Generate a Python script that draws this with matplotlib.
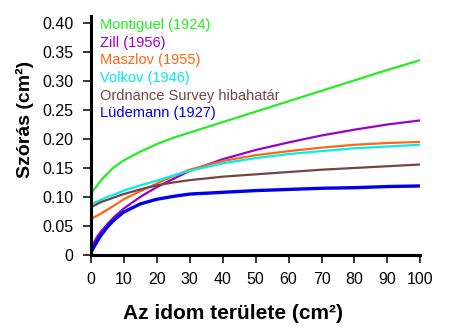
import matplotlib
matplotlib.use('Agg')
import matplotlib.pyplot as plt

plt.rcParams['font.family'] = ['Liberation Sans', 'DejaVu Sans']

area = [0, 1, 2, 3, 5, 7, 10, 15, 20, 25, 30, 40, 50, 60, 70, 80, 90, 100]

montiguel = [0.106, 0.113, 0.120, 0.128, 0.140, 0.151, 0.163, 0.178, 0.191, 0.202,
             0.211, 0.229, 0.247, 0.265, 0.283, 0.301, 0.319, 0.336]
zill = [0.015, 0.022, 0.032, 0.040, 0.053, 0.065, 0.080, 0.100, 0.117, 0.131,
        0.145, 0.165, 0.181, 0.194, 0.206, 0.216, 0.225, 0.232]
maszlov = [0.062, 0.065, 0.068, 0.071, 0.078, 0.085, 0.096, 0.110, 0.123, 0.136,
           0.147, 0.162, 0.172, 0.179, 0.185, 0.190, 0.193, 0.195]
volkov = [0.087, 0.090, 0.092, 0.095, 0.100, 0.104, 0.111, 0.120, 0.128, 0.137,
          0.145, 0.158, 0.167, 0.174, 0.179, 0.184, 0.187, 0.190]
ordnance = [0.082, 0.085, 0.088, 0.091, 0.095, 0.099, 0.105, 0.113, 0.120, 0.125,
            0.129, 0.135, 0.139, 0.143, 0.147, 0.150, 0.153, 0.156]
ludemann = [0.004, 0.014, 0.024, 0.033, 0.048, 0.060, 0.074, 0.088, 0.096, 0.101,
            0.105, 0.108, 0.111, 0.113, 0.115, 0.116, 0.118, 0.119]

names = ['Montiguel (1924)', 'Zill (1956)', 'Maszlov (1955)', 'Volkov (1946)',
         'Ordnance Survey hibahatár', 'Lüdemann (1927)']
series = [montiguel, zill, maszlov, volkov, ordnance, ludemann]
colors = ['#22ee22', '#9900cc', '#ff6611', '#00eeee', '#774444', '#0000ee']
widths = [1.6, 1.6, 1.6, 1.6, 1.6, 2.4]

fig = plt.figure(figsize=(4.56, 3.28), dpi=100)
ax = fig.add_axes([0.199, 0.2226, 0.723, 0.7287])

for s, c, w in zip(series, colors, widths):
    ax.plot(area, s, color=c, lw=w)

# legend as coloured text
for i, (n, c) in enumerate(zip(names, colors)):
    ax.text(2.8, 0.3897 - i * 0.0305, n, color=c, fontsize=10.5, va='baseline', ha='left')

ax.set_xlim(0, 100)
ax.set_ylim(0, 0.412)
ax.set_xticks(range(0, 101, 10))
ax.set_yticks([0, 0.05, 0.10, 0.15, 0.20, 0.25, 0.30, 0.35, 0.40])
ax.set_yticklabels(['0', '0.05', '0.10', '0.15', '0.20', '0.25', '0.30', '0.35', '0.40'])

for side in ['top', 'right']:
    ax.spines[side].set_visible(False)
for side in ['left', 'bottom']:
    ax.spines[side].set_linewidth(2.2)

ax.tick_params(direction='out', length=6, width=1.1, labelsize=11.5, pad=6.5)

ax.set_xlabel('Az idom területe (cm²)', fontsize=15, fontweight='bold')
ax.xaxis.set_label_coords(0.433, -0.243)
ax.xaxis.label.set_va('center')
ax.set_ylabel('Szórás (cm²)', fontsize=14, fontweight='bold',
              family=['Liberation Sans Narrow', 'Liberation Sans'])
ax.yaxis.set_label_coords(-0.199, 0.569)
ax.yaxis.label.set_va('center')

fig.savefig('out.png', dpi=100)
